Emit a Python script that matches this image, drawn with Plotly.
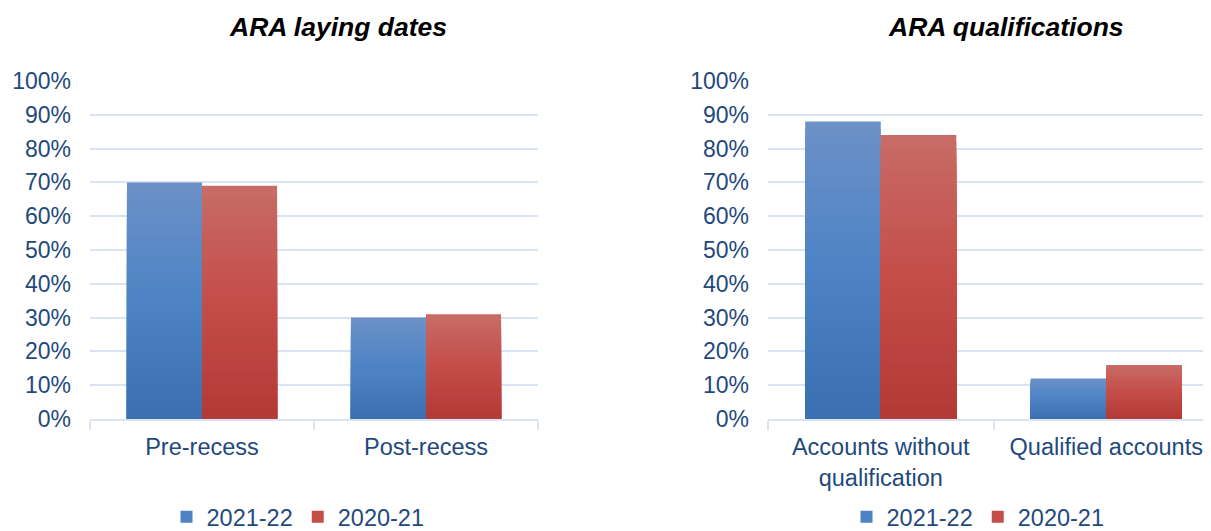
import plotly.graph_objects as go

# ---- data ----
cats_left = ["Pre-recess", "Post-recess"]
cats_right = ["Accounts without<br>qualification", "Qualified accounts"]
s2122_left = [0.70, 0.30]
s2021_left = [0.69, 0.31]
s2122_right = [0.88, 0.12]
s2021_right = [0.84, 0.16]
series_names = ["2021-22", "2020-21"]
title_left = "ARA laying dates"
title_right = "ARA qualifications"

# gradient stops (top, middle, bottom)
blue_stops = [(108, 145, 199), (77, 131, 197), (58, 111, 176)]
red_stops = [(200, 108, 103), (196, 77, 73), (179, 57, 55)]

N = 40
FONT = "Liberation Sans, Arial, sans-serif"
TXT = "#1F497D"
GRID = "#D9E3F1"
OFF = 8  # page body offset


def interp(stops, t):
    # t=0 bottom, t=1 top
    bot, mid, top = stops[2], stops[1], stops[0]
    if t < 0.5:
        a, b, u = bot, mid, t / 0.5
    else:
        a, b, u = mid, top, (t - 0.5) / 0.5
    c = [round(a[i] + (b[i] - a[i]) * u) for i in range(3)]
    return "rgb(%d,%d,%d)" % tuple(c)


fig = go.Figure()


def add_series(cats, vals, stops, name, group, xaxis, yaxis, legend):
    # draw tallest first, shorter overlays on top -> vertical gradient without seams
    for k in range(N - 1, -1, -1):
        t = (k + 0.5) / N
        fig.add_trace(go.Bar(
            x=cats,
            y=[v * (k + 1) / N for v in vals],
            offsetgroup=group,
            marker=dict(color=interp(stops, t), line=dict(width=0)),
            name=name,
            showlegend=False,
            hoverinfo="skip",
            xaxis=xaxis, yaxis=yaxis,
        ))
    # legend entry
    fig.add_trace(go.Bar(
        x=[cats[0]], y=[0], offsetgroup=group, name=name,
        marker=dict(color=interp(stops, 0.5), line=dict(width=0)),
        showlegend=True, legend=legend, hoverinfo="skip",
        xaxis=xaxis, yaxis=yaxis,
    ))


add_series(cats_left, s2122_left, blue_stops, series_names[0], "a", "x", "y", "legend")
add_series(cats_left, s2021_left, red_stops, series_names[1], "b", "x", "y", "legend")
add_series(cats_right, s2122_right, blue_stops, series_names[0], "a", "x2", "y2", "legend2")
add_series(cats_right, s2021_right, red_stops, series_names[1], "b", "x2", "y2", "legend2")

W, H = 1211, 531
ydom = [1 - (419 - OFF) / H, 1 - (81 - OFF) / H]

xcommon = dict(
    type="category", showgrid=False, zeroline=False,
    showline=True, linecolor=GRID, linewidth=2,
    ticks="outside", tickson="boundaries", ticklen=9, tickcolor=GRID, tickwidth=2,
    tickfont=dict(family=FONT, size=23.5, color=TXT),
    ticklabelstandoff=6,
)
ycommon = dict(
    range=[0, 1.0001], dtick=0.1, tick0=0, tickformat=".0%",
    showgrid=True, gridcolor=GRID, gridwidth=2,
    zeroline=False, showline=False, ticks="",
    tickfont=dict(family=FONT, size=23, color=TXT),
    ticklabelstandoff=18,
)

leg = dict(orientation="h", yanchor="bottom", y=0,
           font=dict(family=FONT, size=23.5, color=TXT), bgcolor="rgba(0,0,0,0)",
           itemwidth=30, tracegroupgap=0)

fig.update_layout(
    width=W, height=H,
    margin=dict(l=0, r=0, t=0, b=0, autoexpand=False),
    paper_bgcolor="white", plot_bgcolor="white",
    barmode="group", bargap=0.33, bargroupgap=0,
    xaxis=dict(domain=[(90 - OFF) / W, (538 - OFF) / W], anchor="y", **xcommon),
    yaxis=dict(domain=ydom, anchor="x", **ycommon),
    xaxis2=dict(domain=[(768 - OFF) / W, 1.0], anchor="y2", **xcommon),
    yaxis2=dict(domain=ydom, anchor="x2", **ycommon),
    legend=dict(x=(298 - OFF) / W, xanchor="center", **leg),
    legend2=dict(x=(978 - OFF) / W, xanchor="center", **leg),
    annotations=[
        dict(text="<b><i>%s</i></b>" % title_left, x=(338 - OFF) / W, y=1 - (27 - OFF) / H,
             xref="paper", yref="paper", xanchor="center", yanchor="middle", showarrow=False,
             font=dict(family=FONT, size=26.5, color="black")),
        dict(text="<b><i>%s</i></b>" % title_right, x=(1006 - OFF) / W, y=1 - (27 - OFF) / H,
             xref="paper", yref="paper", xanchor="center", yanchor="middle", showarrow=False,
             font=dict(family=FONT, size=26.5, color="black")),
    ],
)

fig.write_html("out.html")
